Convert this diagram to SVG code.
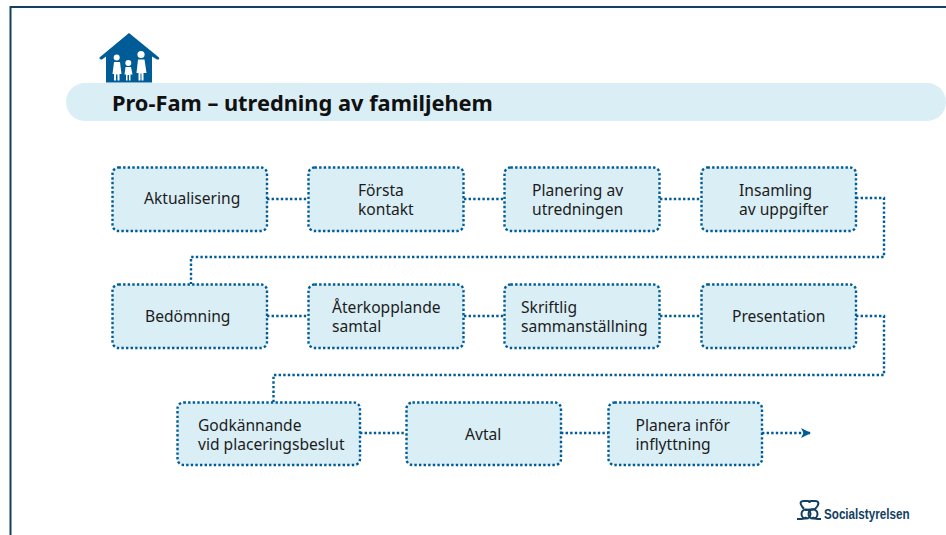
<svg xmlns="http://www.w3.org/2000/svg" width="946" height="535" viewBox="0 0 946 535">
<style>
.n rect{fill:#daeef6;stroke:#005c96;stroke-width:2.4;stroke-dasharray:2.4 2.2}
.n text{font-family:"Noto Sans","Open Sans",sans-serif;font-size:15.6px;fill:#1c1c1c}
.c{fill:none;stroke:#005c96;stroke-width:2.4;stroke-dasharray:2.4 2.2}
</style>
<defs>
<marker id="a" markerUnits="userSpaceOnUse" markerWidth="12" markerHeight="12" refX="9" refY="5" orient="auto"><path d="M0 0L10 5L0 10L2.500 5Z" fill="#005c96"/></marker>
</defs>
<rect width="946" height="535" fill="#fff"/>
<path d="M10.500 535V7H946" fill="none" stroke="#12405f" stroke-width="2"/>
<g id="title">
<rect x="66" y="83" width="880" height="38" rx="19" fill="#daeef6"/>
<path d="M129 33L99.500 57.500Q99 60 102 59.500L106 56.500V82.500H152V56.500L157 59.500Q160 60 159 57.500Z" fill="#005c96"/>
<g fill="#fff">
<circle cx="116.700" cy="57.500" r="3"/><path d="M114 62H120L121.500 74H119.500V80.500H117.500V74.500H116V80.500H114V74H112.500Z"/>
<circle cx="128.300" cy="63" r="3"/><path d="M125.500 67H131L132.500 74.500H130.500V80.500H129V75H127.500V80.500H126V74.500H124.500Z"/>
<circle cx="141" cy="54.500" r="3.600"/><path d="M138 59.500H144.500L146.500 73H143.500V80.500H141.500V73.500H140.500V80.500H138.500V73H136.500Z"/>
</g>
<text x="112" y="111" style="font-family:'Noto Sans','Open Sans',sans-serif;font-size:21.800px;font-weight:700" fill="#111">Pro-Fam – utredning av familjehem</text>
</g>
<g id="connectors">
<path class="c" d="M267 199H308"/><path class="c" d="M464 199H504"/><path class="c" d="M660 199H701"/>
<path class="c" d="M856 198H884V257H191V284"/>
<path class="c" d="M267 316H308"/><path class="c" d="M464 316H504"/><path class="c" d="M660 316H701"/>
<path class="c" d="M856 316H884V375H273.500V402"/>
<path class="c" d="M360 433H406"/><path class="c" d="M561 433H608"/>
<path class="c" d="M762 433H810" marker-end="url(#a)"/>
</g>
<g id="n1" class="n"><rect x="112.500" y="167.500" width="154.500" height="63.500" rx="6"/><text x="144" y="203.500">Aktualisering</text></g>
<g id="n2" class="n"><rect x="308.500" y="167.500" width="155" height="63.500" rx="6"/><text y="195.500"><tspan x="358">Första</tspan><tspan x="358" dy="19">kontakt</tspan></text></g>
<g id="n3" class="n"><rect x="504.500" y="167.500" width="155" height="63.500" rx="6"/><text y="195.500"><tspan x="532">Planering av</tspan><tspan x="532" dy="19">utredningen</tspan></text></g>
<g id="n4" class="n"><rect x="701.500" y="167.500" width="154.500" height="63.500" rx="6"/><text y="195.500"><tspan x="739">Insamling</tspan><tspan x="739" dy="19">av uppgifter</tspan></text></g>
<g id="n5" class="n"><rect x="112.500" y="284.500" width="154.500" height="63.500" rx="6"/><text x="145" y="321.500">Bedömning</text></g>
<g id="n6" class="n"><rect x="308.500" y="284.500" width="155" height="63.500" rx="6"/><text y="312.500"><tspan x="332">Återkopplande</tspan><tspan x="332" dy="19">samtal</tspan></text></g>
<g id="n7" class="n"><rect x="504.500" y="284.500" width="155" height="63.500" rx="6"/><text y="312.500"><tspan x="521">Skriftlig</tspan><tspan x="521" dy="19">sammanställning</tspan></text></g>
<g id="n8" class="n"><rect x="701.500" y="284.500" width="154.500" height="63.500" rx="6"/><text x="732" y="321.500">Presentation</text></g>
<g id="n9" class="n"><rect x="177.500" y="402.500" width="182.500" height="62.500" rx="6"/><text y="430.500"><tspan x="198">Godkännande</tspan><tspan x="198" dy="19">vid placeringsbeslut</tspan></text></g>
<g id="n10" class="n"><rect x="406.500" y="402.500" width="154.500" height="62.500" rx="6"/><text x="465" y="439.500">Avtal</text></g>
<g id="n11" class="n"><rect x="608.500" y="402.500" width="153.500" height="62.500" rx="6"/><text y="430.500"><tspan x="635.500">Planera inför</tspan><tspan x="635.500" dy="19">inflyttning</tspan></text></g>
<g id="logo">
<g fill="none" stroke="#12405f" stroke-width="2">
<path d="M804 509C799 503 800 501 804 501H808Q809.500 501 809.500 503Q809.500 501 811 501H815C819 501 820 504 815 509L805 510"/>
<circle cx="806" cy="514" r="4.500"/><circle cx="813" cy="514" r="4.500"/>
<path d="M797 519H801Q805 519 806.500 517M821 519H818Q814 519 812.500 517"/>
</g>
<text x="824" y="519" textLength="85.500" lengthAdjust="spacingAndGlyphs" style="font-family:'Liberation Sans',sans-serif;font-size:15px;font-weight:700" fill="#12405f">Socialstyrelsen</text>
</g>
</svg>
